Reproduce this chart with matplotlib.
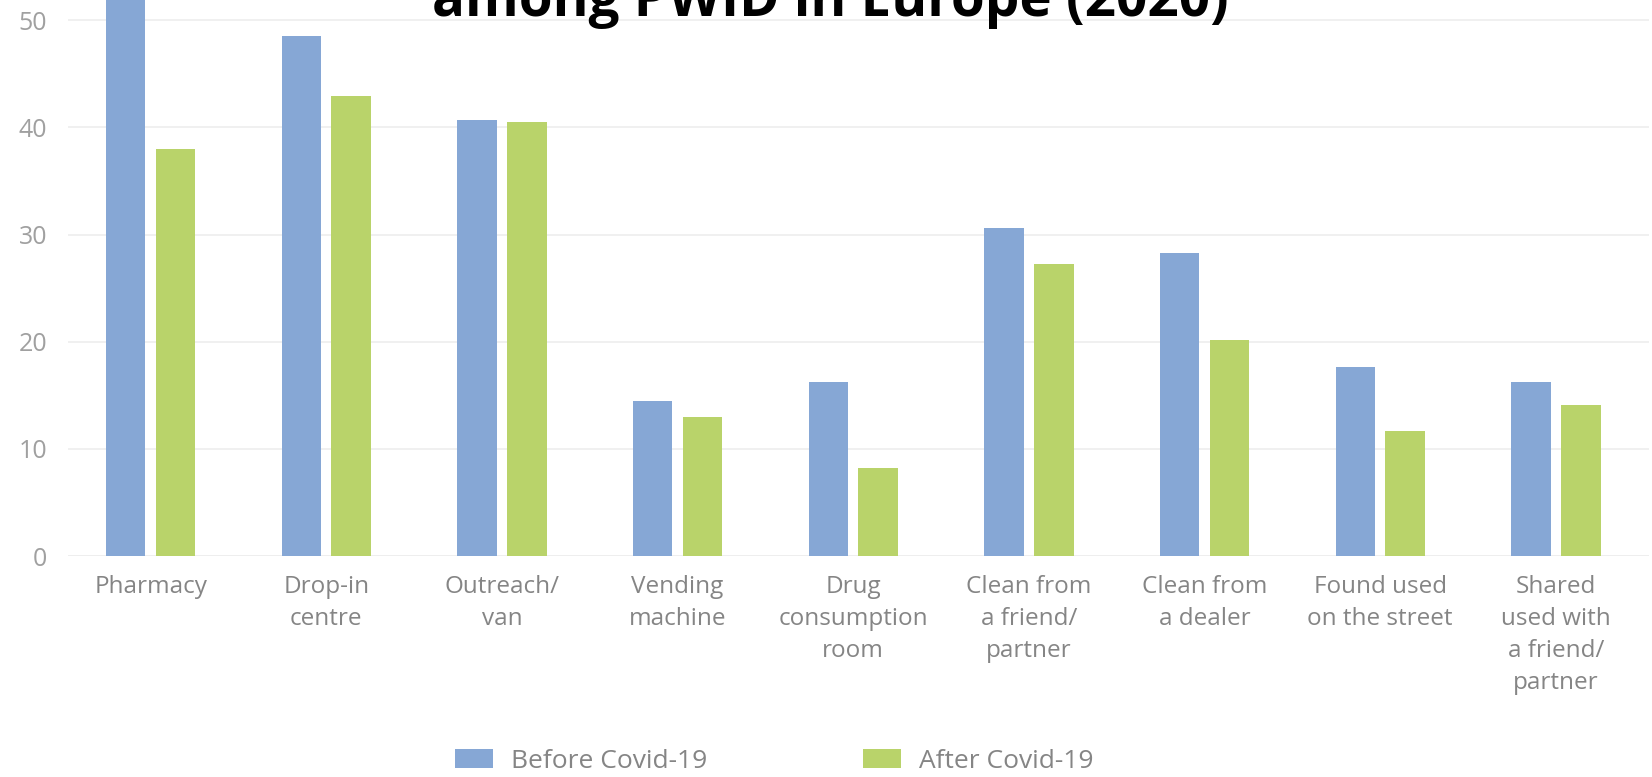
import matplotlib
matplotlib.use("Agg")
import matplotlib.pyplot as plt
from matplotlib.patches import Patch
import numpy as np

categories = ["Pharmacy", "Drop-in\ncentre", "Outreach/\nvan", "Vending\nmachine",
              "Drug\nconsumption\nroom", "Clean from\na friend/\npartner",
              "Clean from\na dealer", "Found used\non the street",
              "Shared\nused with\na friend/\npartner"]
before = [57.0, 48.5, 40.7, 14.5, 16.2, 30.6, 28.3, 17.6, 16.2]
after = [38.0, 42.9, 40.5, 13.0, 8.2, 27.3, 20.2, 11.7, 14.1]
series_names = ["Before Covid-19", "After Covid-19"]
yticks = [0, 10, 20, 30, 40, 50]
title_line = "among PWID in Europe (2020)"

BLUE = "#86A7D5"
GREEN = "#B9D36A"
GRAY = "#858585"
FONT = "Open Sans"

W, H = 1652, 777
fig = plt.figure(figsize=(W / 100, H / 100), dpi=100)
ax = fig.add_axes([68 / W, 1 - 556 / H, (1649 - 68) / W, 556 / H])

x = np.arange(len(categories))
bw = 0.225
off = 0.142
ax.bar(x - off, before, width=bw, color=BLUE, zorder=3, label=series_names[0])
ax.bar(x + off, after, width=bw, color=GREEN, zorder=3, label=series_names[1])

ax.set_xlim(-0.47, 8.53)
ax.set_ylim(0, 51.9)
ax.set_yticks(yticks)
ax.set_yticklabels([str(t) for t in yticks], fontsize=18, color="#a0a0a0",
                   fontfamily=FONT)
ax.set_xticks(x)
ax.set_xticklabels(categories, fontsize=17.5, color=GRAY, fontfamily=FONT,
                   linespacing=1.43)
ax.tick_params(axis="both", length=0)
ax.tick_params(axis="x", pad=14)
ax.tick_params(axis="y", pad=15)
ax.yaxis.grid(True, color="#eeeeee", linewidth=1.2, zorder=0)
ax.set_axisbelow(True)
for s in ax.spines.values():
    s.set_visible(False)
ax.axhline(0, color="#eeeeee", linewidth=1.2, zorder=1)

# Title (cropped at the top in the reference)
t = fig.text(830 / W, 1 - 16 / H, title_line, ha="center", va="baseline",
             fontsize=40, fontweight="bold", fontfamily=FONT, color="black")
fig.canvas.draw()
bb = t.get_window_extent()
t.set_fontsize(40 * 796 / bb.width)

handles = [Patch(facecolor=BLUE, label=series_names[0]),
           Patch(facecolor=GREEN, label=series_names[1])]
leg = fig.legend(handles=handles, loc="center", bbox_to_anchor=(774 / W, 1 - 761 / H),
                 ncol=2, frameon=False, prop={"family": FONT, "size": 19},
                 handlelength=1.45, handleheight=0.7, handletextpad=0.68,
                 columnspacing=5.9, labelcolor=GRAY)

fig.savefig("out.png", dpi=100)
